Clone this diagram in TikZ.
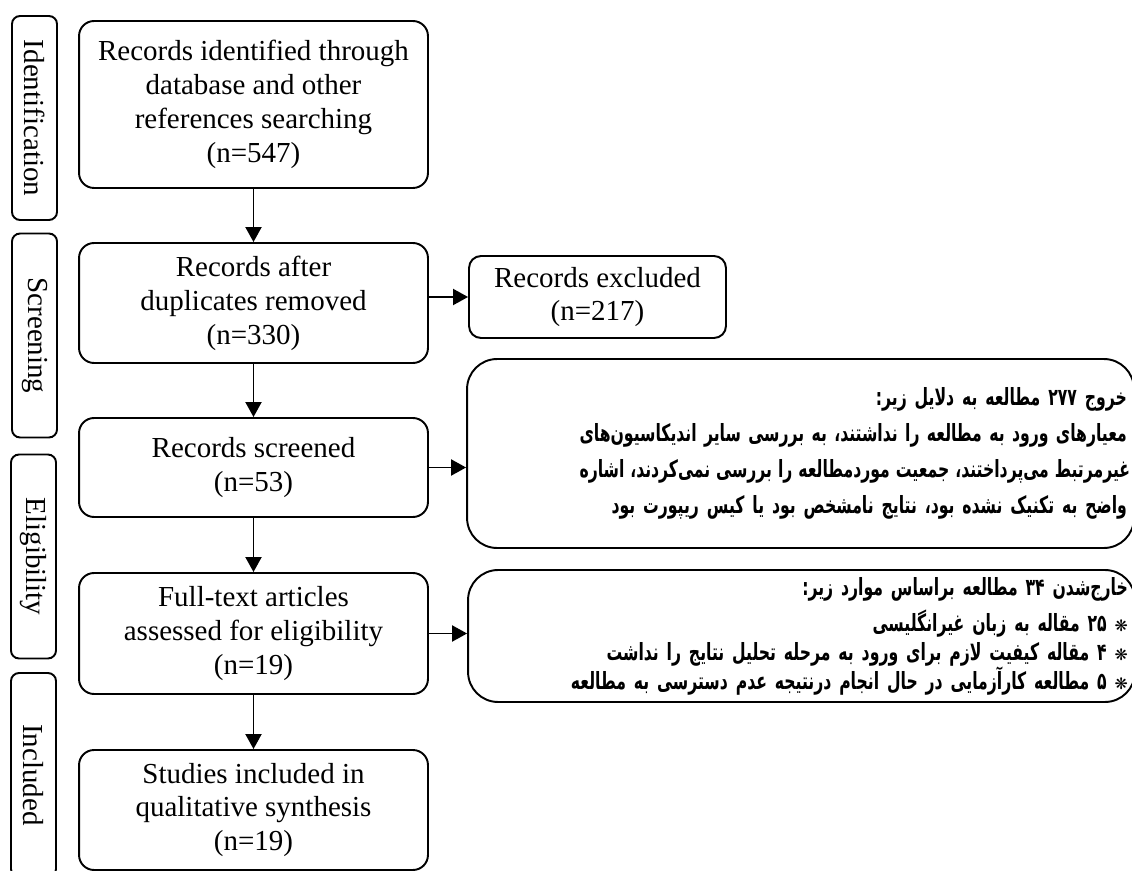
\documentclass[tikz,border=0pt]{standalone}
\usepackage{fontspec}
\setmainfont{Liberation Serif}
\newfontfamily\fa[Script=Arabic, FakeStretch=0.66]{DejaVu Sans}
\newfontfamily\symb{DejaVu Sans}
\TeXXeTstate=1
\usetikzlibrary{arrows.meta}
\tikzset{
  ->, >={Triangle[width=0.32cm, length=0.3cm]},
  mainbox/.style={draw, rounded corners=0.3cm, align=center, minimum width=6.98cm,
    inner sep=0pt, font=\fontsize{16.5}{19.3}\selectfont},
  stagebox/.style={draw, rounded corners=0.16cm, rotate=-90, minimum width=4.08cm,
    minimum height=0.9cm, inner sep=0pt, font=\fontsize{16.5}{19.3}\selectfont},
  reasonbox/.style={draw, rounded corners=0.6cm, text width=13.06cm, inner xsep=0.14cm,
    inner ysep=0pt, font=\fa\bfseries\fontsize{13.5}{20.5}\selectfont},
}
\newlength\falen \setlength\falen{10.95cm}
\newcommand{\faright}[1]{\noindent\hbox to \hsize{\hfill\beginR #1\endR}\par}
\newcommand{\fafull}[1]{\noindent\hbox to \hsize{\hfill
  \hbox to \falen{\spaceskip=0.25em plus 1fil\beginR #1\endR}}\par}
\newcommand{\flower}{{\symb\mdseries\fontsize{9}{9}\selectfont ❋}}

\begin{document}
\begin{tikzpicture}[x=0.02cm, y=-0.02cm, line width=1.1pt]
  \path[use as bounding box, clip] (0,0) rectangle (1132,871);

  % Stages
  \node[stagebox] (ident) at (34.5,118) {Identification};
  \node[stagebox] (screen) at (34.5,335.5) {Screening};
  \node[stagebox] (elig) at (33.5,556.5) {Eligibility};
  \node[stagebox] (incl) at (33.5,775) {Included};

  % Boxes
  \node[mainbox, minimum height=3.34cm] (found) at (253.5,104.5)
    {Records identified through\\database and other\\references searching\\(n=547)};
  \node[mainbox, minimum height=2.4cm] (dedup) at (253.5,303)
    {Records after\\duplicates removed\\(n=330)};
  \node[mainbox, minimum height=1.98cm] (scr) at (253.5,467.5)
    {Records screened\\(n=53)};
  \node[mainbox, minimum height=2.42cm] (full) at (253.5,633.5)
    {Full-text articles\\assessed for eligibility\\(n=19)};
  \node[mainbox, minimum height=2.4cm] (synth) at (253.5,810)
    {Studies included in\\qualitative synthesis\\(n=19)};
  \node[mainbox, minimum width=5.14cm, minimum height=1.64cm, rounded corners=0.24cm]
    (excl) at (597.5,297) {Records excluded\\(n=217)};

  \node[reasonbox, minimum height=3.78cm] (why1) at (800.5,453.5) {%
    \faright{خروج ۲۷۷ مطالعه به دلایل زیر:}%
    \fafull{معیارهای ورود به مطالعه را نداشتند، به بررسی سایر اندیکاسیون‌های}%
    \fafull{غیرمرتبط می‌پرداختند، جمعیت موردمطالعه را بررسی نمی‌کردند، اشاره}%
    \faright{واضح به تکنیک نشده بود، نتایج نامشخص بود یا کیس ریپورت بود}};
  \node[reasonbox, minimum height=2.64cm, font=\fa\bfseries\fontsize{13.5}{16.5}\selectfont]
    (why2) at (801.5,636) {%
    \vspace*{4pt}%
    \faright{خارج‌شدن ۳۴ مطالعه براساس موارد زیر:}%
    \faright{\flower{} ۲۵ مقاله به زبان غیرانگلیسی}%
    \faright{\flower{} ۴ مقاله کیفیت لازم برای ورود به مرحله تحلیل نتایج را نداشت}%
    \faright{\flower{} ۵ مطالعه کارآزمایی در حال انجام درنتیجه عدم دسترسی به مطالعه}};

  % Arrows
  \path
    (found) edge (dedup)
    (dedup) edge (scr)
    (scr) edge (full)
    (full) edge (synth)
    (dedup.east |- excl.west) edge (excl.west)
    (scr.east) edge (scr.east -| why1.west)
    (full.east) edge (full.east -| why2.west);
\end{tikzpicture}
\end{document}
